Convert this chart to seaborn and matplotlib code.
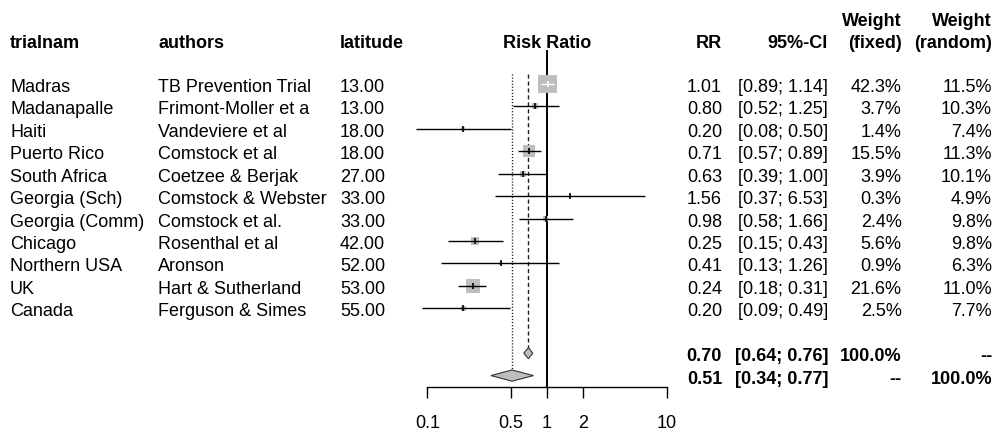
import numpy as np
import matplotlib
matplotlib.use("Agg")
import matplotlib.pyplot as plt
import matplotlib.transforms as mtransforms
from matplotlib.patches import Polygon
from matplotlib.ticker import NullLocator
import seaborn as sns

# ---- study data ---------------------------------------------------------
trialnam = ["Madras", "Madanapalle", "Haiti", "Puerto Rico", "South Africa",
            "Georgia (Sch)", "Georgia (Comm)", "Chicago", "Northern USA",
            "UK", "Canada"]
authors = ["TB Prevention Trial", "Frimont-Moller et a", "Vandeviere et al",
           "Comstock et al", "Coetzee & Berjak", "Comstock & Webster",
           "Comstock et al.", "Rosenthal et al", "Aronson",
           "Hart & Sutherland", "Ferguson & Simes"]
latitude = [13, 13, 18, 18, 27, 33, 33, 42, 52, 53, 55]
rr = [1.01, 0.80, 0.20, 0.71, 0.63, 1.56, 0.98, 0.25, 0.41, 0.24, 0.20]
ci_low = [0.89, 0.52, 0.08, 0.57, 0.39, 0.37, 0.58, 0.15, 0.13, 0.18, 0.09]
ci_high = [1.14, 1.25, 0.50, 0.89, 1.00, 6.53, 1.66, 0.43, 1.26, 0.31, 0.49]
weight_fixed = [42.3, 3.7, 1.4, 15.5, 3.9, 0.3, 2.4, 5.6, 0.9, 21.6, 2.5]
weight_random = [11.5, 10.3, 7.4, 11.3, 10.1, 4.9, 9.8, 9.8, 6.3, 11.0, 7.7]

# pooled estimates: fixed effect and random effects
fixed_est = [0.70, 0.64, 0.76]
random_est = [0.51, 0.34, 0.77]

tick_values = [0.1, 0.5, 1, 2, 10]
tick_labels = ["0.1", "0.5", "1", "2", "10"]

# ---- figure setup -------------------------------------------------------
sns.set_theme(style="white")
plt.rcParams["font.family"] = ["Liberation Sans", "DejaVu Sans"]

W, H = 996, 434
fig = plt.figure(figsize=(W / 100, H / 100), dpi=100)
fig.patch.set_facecolor("white")

ROW0, ROWH = 84.0, 22.43          # pixel centre of first row, row height
ax = fig.add_axes([427.3 / W, 0, 239.4 / W, 1])
ax.set_xscale("log")
ax.set_xlim(0.1, 10)
ax.set_ylim((H - ROW0) / ROWH, -ROW0 / ROWH)
ax.patch.set_visible(False)

for side in ("left", "right", "top"):
    ax.spines[side].set_visible(False)
axis_row = (387.3 - ROW0) / ROWH
ax.spines["bottom"].set_position(("data", axis_row))
ax.spines["bottom"].set_color("black")
ax.spines["bottom"].set_linewidth(1.0)
ax.set_xticks(tick_values)
ax.set_xticklabels(tick_labels)
ax.xaxis.set_minor_locator(NullLocator())
ax.set_yticks([])
ax.tick_params(axis="x", direction="out", length=7.9, width=1.0, pad=12,
               labelsize=13, colors="black", bottom=True)

n = len(trialnam)
rows = np.arange(n)
fixed_row, random_row = n + 1, n + 2
dh = 0.25  # half height of the summary diamonds

# ---- reference lines ----------------------------------------------------
null_top = (50 - ROW0) / ROWH
ref_top = (74 - ROW0) / ROWH
ax.plot([1, 1], [null_top, axis_row], color="black", lw=1.4,
        solid_capstyle="butt", zorder=1)
ax.plot([fixed_est[0]] * 2, [ref_top, fixed_row - dh], color="#222222",
        lw=1.0, dashes=(3, 2), zorder=1)
ax.plot([random_est[0]] * 2, [ref_top, random_row - dh], color="#111111",
        lw=1.0, dashes=(0.8, 1.4), zorder=1)

# ---- study boxes, CIs and estimates -------------------------------------
box_px = 2.75 * np.sqrt(weight_fixed) + 0.8
box_s = (box_px * 0.72) ** 2
sns.scatterplot(x=rr, y=rows, s=box_s, marker="s", color="#BEBEBE",
                linewidth=0, ax=ax, legend=False, zorder=2, clip_on=False)

fig.canvas.draw()
for i in range(n):
    x0 = ax.transData.transform((ci_low[i], i))[0]
    x1 = ax.transData.transform((ci_high[i], i))[0]
    col = "white" if (x1 - x0) < box_px[i] else "black"
    ax.plot([ci_low[i], ci_high[i]], [i, i], color=col, lw=1.0,
            solid_capstyle="butt", clip_on=False, zorder=3)
    ax.plot([rr[i]], [i], marker="|", markersize=5, mew=1.2, color=col,
            clip_on=False, zorder=4)

# ---- summary diamonds ---------------------------------------------------
for est, row in ((fixed_est, fixed_row), (random_est, random_row)):
    m, lo, hi = est
    ax.add_patch(Polygon([(lo, row), (m, row - dh), (hi, row), (m, row + dh)],
                         closed=True, facecolor="#BEBEBE", edgecolor="#333333",
                         lw=0.8, zorder=3))

# ---- text columns -------------------------------------------------------
tr = mtransforms.blended_transform_factory(fig.transFigure, ax.transData)
FS = 13
BASE = 8.0 / ROWH   # baseline offset below row centre


def put(xpx, row, s, ha="left", bold=False):
    ax.text(xpx / W, row + BASE, s, transform=tr, ha=ha, va="baseline",
            fontsize=FS, color="black",
            fontweight="bold" if bold else "normal")


hdr2 = (48 - ROW0) / ROWH - BASE
hdr1 = hdr2 - 1.0
put(10, hdr2, "trialnam", bold=True)
put(158, hdr2, "authors", bold=True)
put(340, hdr2, "latitude", bold=True)
ax.text(1, hdr2 + BASE, "Risk Ratio", ha="center", va="baseline",
        fontsize=FS, fontweight="bold", color="black")
put(722, hdr2, "RR", ha="right", bold=True)
put(828, hdr2, "95%-CI", ha="right", bold=True)
put(902, hdr1, "Weight", ha="right", bold=True)
put(902, hdr2, "(fixed)", ha="right", bold=True)
put(992, hdr1, "Weight", ha="right", bold=True)
put(992, hdr2, "(random)", ha="right", bold=True)

for i in range(n):
    put(10, i, trialnam[i])
    put(158, i, authors[i])
    put(340, i, f"{latitude[i]:.2f}")
    put(722, i, f"{rr[i]:.2f}", ha="right")
    put(828, i, f"[{ci_low[i]:.2f}; {ci_high[i]:.2f}]", ha="right")
    put(901.5, i, f"{weight_fixed[i]:.1f}%", ha="right")
    put(992, i, f"{weight_random[i]:.1f}%", ha="right")

for est, row, wf, wr in ((fixed_est, fixed_row, "100.0%", "--"),
                         (random_est, random_row, "--", "100.0%")):
    put(722, row, f"{est[0]:.2f}", ha="right", bold=True)
    put(828, row, f"[{est[1]:.2f}; {est[2]:.2f}]", ha="right", bold=True)
    put(901.5, row, wf, ha="right", bold=True)
    put(992, row, wr, ha="right", bold=True)

fig.savefig("out.png", dpi=100, facecolor="white")
